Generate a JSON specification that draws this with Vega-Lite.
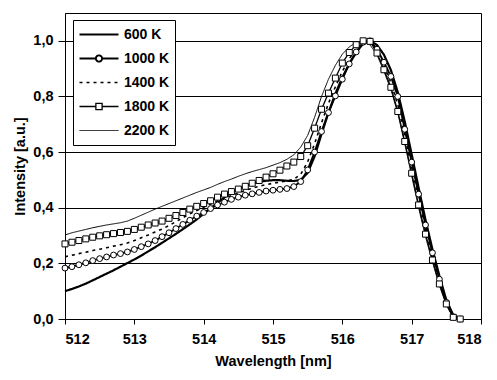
{
  "$schema": "https://vega.github.io/schema/vega-lite/v6.json",
  "width": 416,
  "height": 306,
  "autosize": {"type": "none"},
  "padding": {"left": 65, "top": 13, "right": 16, "bottom": 61},
  "background": "white",
  "config": {
    "font": "Liberation Sans",
    "view": {"stroke": "black", "strokeWidth": 1},
    "axis": {
      "labelFont": "Liberation Sans", "labelFontWeight": "bold", "labelFontSize": 14.5, "labelColor": "black",
      "titleFont": "Liberation Sans", "titleFontWeight": "bold", "titleFontSize": 14.5, "titleColor": "black",
      "domainColor": "black", "tickColor": "black", "gridColor": "black", "gridOpacity": 1
    }
  },
  "data": {
    "values": [
      {"w":512.0,"600 K":0.100,"1000 K":0.183,"1400 K":0.224,"1800 K":0.270,"2200 K":0.302},
      {"w":512.1,"600 K":0.108,"1000 K":0.188,"1400 K":0.229,"1800 K":0.276,"2200 K":0.310},
      {"w":512.2,"600 K":0.117,"1000 K":0.195,"1400 K":0.235,"1800 K":0.282,"2200 K":0.316},
      {"w":512.3,"600 K":0.127,"1000 K":0.202,"1400 K":0.240,"1800 K":0.288,"2200 K":0.322},
      {"w":512.4,"600 K":0.139,"1000 K":0.210,"1400 K":0.246,"1800 K":0.294,"2200 K":0.328},
      {"w":512.5,"600 K":0.151,"1000 K":0.217,"1400 K":0.251,"1800 K":0.299,"2200 K":0.333},
      {"w":512.6,"600 K":0.163,"1000 K":0.223,"1400 K":0.256,"1800 K":0.303,"2200 K":0.338},
      {"w":512.7,"600 K":0.175,"1000 K":0.230,"1400 K":0.262,"1800 K":0.307,"2200 K":0.342},
      {"w":512.8,"600 K":0.188,"1000 K":0.235,"1400 K":0.267,"1800 K":0.311,"2200 K":0.346},
      {"w":512.9,"600 K":0.201,"1000 K":0.241,"1400 K":0.273,"1800 K":0.315,"2200 K":0.352},
      {"w":513.0,"600 K":0.214,"1000 K":0.250,"1400 K":0.282,"1800 K":0.322,"2200 K":0.362},
      {"w":513.1,"600 K":0.228,"1000 K":0.260,"1400 K":0.292,"1800 K":0.330,"2200 K":0.373},
      {"w":513.2,"600 K":0.243,"1000 K":0.270,"1400 K":0.302,"1800 K":0.338,"2200 K":0.384},
      {"w":513.3,"600 K":0.258,"1000 K":0.282,"1400 K":0.313,"1800 K":0.345,"2200 K":0.395},
      {"w":513.4,"600 K":0.274,"1000 K":0.296,"1400 K":0.323,"1800 K":0.352,"2200 K":0.405},
      {"w":513.5,"600 K":0.290,"1000 K":0.310,"1400 K":0.336,"1800 K":0.362,"2200 K":0.415},
      {"w":513.6,"600 K":0.306,"1000 K":0.325,"1400 K":0.350,"1800 K":0.372,"2200 K":0.425},
      {"w":513.7,"600 K":0.323,"1000 K":0.340,"1400 K":0.364,"1800 K":0.383,"2200 K":0.435},
      {"w":513.8,"600 K":0.340,"1000 K":0.355,"1400 K":0.378,"1800 K":0.395,"2200 K":0.445},
      {"w":513.9,"600 K":0.358,"1000 K":0.370,"1400 K":0.390,"1800 K":0.405,"2200 K":0.455},
      {"w":514.0,"600 K":0.378,"1000 K":0.383,"1400 K":0.402,"1800 K":0.415,"2200 K":0.464},
      {"w":514.1,"600 K":0.398,"1000 K":0.397,"1400 K":0.413,"1800 K":0.425,"2200 K":0.473},
      {"w":514.2,"600 K":0.418,"1000 K":0.410,"1400 K":0.424,"1800 K":0.438,"2200 K":0.484},
      {"w":514.3,"600 K":0.437,"1000 K":0.420,"1400 K":0.434,"1800 K":0.449,"2200 K":0.494},
      {"w":514.4,"600 K":0.455,"1000 K":0.430,"1400 K":0.444,"1800 K":0.458,"2200 K":0.503},
      {"w":514.5,"600 K":0.468,"1000 K":0.438,"1400 K":0.453,"1800 K":0.467,"2200 K":0.513},
      {"w":514.6,"600 K":0.479,"1000 K":0.445,"1400 K":0.462,"1800 K":0.477,"2200 K":0.522},
      {"w":514.7,"600 K":0.487,"1000 K":0.450,"1400 K":0.470,"1800 K":0.488,"2200 K":0.530},
      {"w":514.8,"600 K":0.493,"1000 K":0.455,"1400 K":0.477,"1800 K":0.498,"2200 K":0.537},
      {"w":514.9,"600 K":0.497,"1000 K":0.460,"1400 K":0.483,"1800 K":0.510,"2200 K":0.544},
      {"w":515.0,"600 K":0.499,"1000 K":0.463,"1400 K":0.488,"1800 K":0.522,"2200 K":0.553},
      {"w":515.1,"600 K":0.499,"1000 K":0.466,"1400 K":0.492,"1800 K":0.535,"2200 K":0.562},
      {"w":515.2,"600 K":0.497,"1000 K":0.469,"1400 K":0.496,"1800 K":0.550,"2200 K":0.574},
      {"w":515.3,"600 K":0.496,"1000 K":0.476,"1400 K":0.502,"1800 K":0.564,"2200 K":0.590},
      {"w":515.4,"600 K":0.500,"1000 K":0.494,"1400 K":0.520,"1800 K":0.584,"2200 K":0.618},
      {"w":515.5,"600 K":0.525,"1000 K":0.536,"1400 K":0.565,"1800 K":0.623,"2200 K":0.660},
      {"w":515.6,"600 K":0.585,"1000 K":0.600,"1400 K":0.630,"1800 K":0.686,"2200 K":0.725},
      {"w":515.7,"600 K":0.665,"1000 K":0.674,"1400 K":0.705,"1800 K":0.754,"2200 K":0.800},
      {"w":515.8,"600 K":0.742,"1000 K":0.742,"1400 K":0.775,"1800 K":0.812,"2200 K":0.862},
      {"w":515.9,"600 K":0.810,"1000 K":0.802,"1400 K":0.835,"1800 K":0.866,"2200 K":0.912},
      {"w":516.0,"600 K":0.868,"1000 K":0.862,"1400 K":0.890,"1800 K":0.920,"2200 K":0.952},
      {"w":516.1,"600 K":0.918,"1000 K":0.917,"1400 K":0.935,"1800 K":0.958,"2200 K":0.978},
      {"w":516.2,"600 K":0.958,"1000 K":0.960,"1400 K":0.972,"1800 K":0.986,"2200 K":0.995},
      {"w":516.3,"600 K":0.990,"1000 K":0.995,"1400 K":0.995,"1800 K":1.000,"2200 K":1.000},
      {"w":516.4,"600 K":1.000,"1000 K":1.000,"1400 K":0.998,"1800 K":0.998,"2200 K":0.985},
      {"w":516.5,"600 K":0.985,"1000 K":0.970,"1400 K":0.965,"1800 K":0.956,"2200 K":0.950},
      {"w":516.6,"600 K":0.950,"1000 K":0.923,"1400 K":0.910,"1800 K":0.896,"2200 K":0.890},
      {"w":516.7,"600 K":0.895,"1000 K":0.872,"1400 K":0.850,"1800 K":0.833,"2200 K":0.825},
      {"w":516.8,"600 K":0.815,"1000 K":0.800,"1400 K":0.770,"1800 K":0.746,"2200 K":0.740},
      {"w":516.9,"600 K":0.710,"1000 K":0.682,"1400 K":0.660,"1800 K":0.638,"2200 K":0.630},
      {"w":517.0,"600 K":0.592,"1000 K":0.564,"1400 K":0.545,"1800 K":0.524,"2200 K":0.515},
      {"w":517.1,"600 K":0.472,"1000 K":0.449,"1400 K":0.430,"1800 K":0.410,"2200 K":0.400},
      {"w":517.2,"600 K":0.356,"1000 K":0.338,"1400 K":0.320,"1800 K":0.305,"2200 K":0.295},
      {"w":517.3,"600 K":0.250,"1000 K":0.238,"1400 K":0.225,"1800 K":0.212,"2200 K":0.205},
      {"w":517.4,"600 K":0.155,"1000 K":0.143,"1400 K":0.135,"1800 K":0.126,"2200 K":0.120},
      {"w":517.5,"600 K":0.068,"1000 K":0.060,"1400 K":0.058,"1800 K":0.054,"2200 K":0.050},
      {"w":517.6,"600 K":0.014,"1000 K":0.008,"1400 K":0.008,"1800 K":0.006,"2200 K":0.005},
      {"w":517.7,"600 K":0.000,"1000 K":0.000,"1400 K":0.000,"1800 K":0.000,"2200 K":0.000}
    ]
  },
  "transform": [
    {"fold": ["600 K", "1000 K", "1400 K", "1800 K", "2200 K"], "as": ["s", "i"]}
  ],
  "encoding": {
    "x": {
      "field": "w", "type": "quantitative",
      "scale": {"domain": [512, 518], "nice": false, "zero": false},
      "axis": {"values": [512, 513, 514, 515, 516, 517, 518], "grid": false, "title": "Wavelength [nm]",
               "tickSize": 5, "labelPadding": 8, "titlePadding": 9, "format": "d"}
    },
    "y": {
      "field": "i", "type": "quantitative",
      "scale": {"domain": [0, 1.1], "nice": false},
      "axis": {"values": [0, 0.2, 0.4, 0.6, 0.8, 1.0], "grid": true, "title": "Intensity [a.u.]",
               "tickSize": 7, "labelPadding": 5, "titlePadding": 5,
               "labelExpr": "replace(format(datum.value, '.1f'), '.', ',')"}
    }
  },
  "layer": [
    {
      "mark": {"type": "line", "color": "black"},
      "encoding": {
        "detail": {"field": "s"},
        "order": {"field": "w", "type": "quantitative"},
        "strokeDash": {
          "field": "s", "type": "nominal",
          "scale": {"domain": ["600 K", "1000 K", "1400 K", "1800 K", "2200 K"],
                    "range": [[1, 0], [1, 0], [3, 4], [1, 0], [1, 0]]},
          "legend": {
            "title": null, "orient": "none", "legendX": 8, "legendY": 7,
            "strokeColor": "black", "fillColor": "white", "padding": 5,
            "symbolSize": 1521, "clipHeight": 19, "rowPadding": 5, "labelOffset": 4,
            "labelFont": "Liberation Sans", "labelFontWeight": "bold", "labelFontSize": 14, "labelColor": "black",
            "symbolStrokeColor": "black",
            "encode": {
              "symbols": {
                "update": {
                  "shape": {"signal": "datum.value === '1000 K' ? 'M-1,0H-0.16M0.16,0H1M0.16,0A0.16,0.16,0,1,1,-0.16,0A0.16,0.16,0,1,1,0.16,0Z' : datum.value === '1800 K' ? 'M-1,0H-0.16M0.16,0H1M-0.16,-0.16H0.16V0.16H-0.16Z' : 'stroke'"},
                  "fill": {"value": "white"},
                  "stroke": {"value": "black"}
                }
              }
            }
          }
        },
        "strokeWidth": {
          "field": "s", "type": "nominal",
          "scale": {"domain": ["600 K", "1000 K", "1400 K", "1800 K", "2200 K"],
                    "range": [2.2, 1, 2, 1, 0.9]}
        }
      }
    },
    {
      "transform": [{"filter": "datum.s === '1000 K'"}],
      "mark": {"type": "point", "shape": "circle", "filled": true, "fill": "white", "stroke": "black", "strokeWidth": 1, "size": 34, "opacity": 1}
    },
    {
      "transform": [{"filter": "datum.s === '1800 K'"}],
      "mark": {"type": "point", "shape": "square", "filled": true, "fill": "white", "stroke": "black", "strokeWidth": 1, "size": 36, "opacity": 1}
    }
  ]
}
